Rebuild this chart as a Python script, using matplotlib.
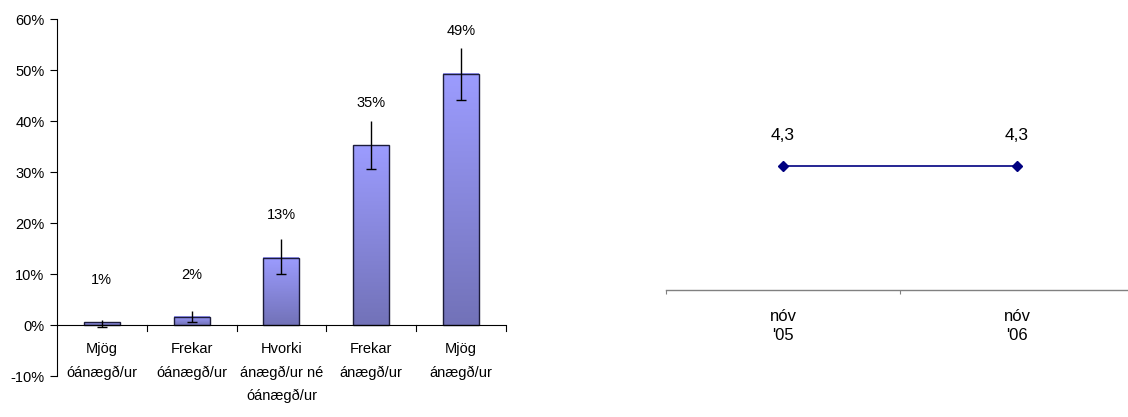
import matplotlib
matplotlib.use("Agg")
import matplotlib.pyplot as plt
from matplotlib.colors import LinearSegmentedColormap
import numpy as np

plt.rcParams['font.family'] = ['Liberation Sans', 'DejaVu Sans']
plt.rcParams['font.size'] = 10

# left chart data (percent)
categories = ['Mjög\nóánægð/ur', 'Frekar\nóánægð/ur', 'Hvorki\nánægð/ur né\nóánægð/ur',
              'Frekar\nánægð/ur', 'Mjög\nánægð/ur']
values = [0.5, 1.6, 13.2, 35.2, 49.3]
err_low = [-0.3, 0.5, 10.0, 30.6, 44.2]
err_high = [1.0, 2.7, 16.8, 40.0, 54.3]
labels = ['1%', '2%', '13%', '35%', '49%']

# right chart data
periods = ["nóv\n'05", "nóv\n'06"]
scores = [4.3, 4.3]
score_labels = ['4,3', '4,3']

fig = plt.figure(figsize=(11.28, 4.17), dpi=100)

# ---- left: bar chart with error bars
ax = fig.add_axes([0.0505, 0.0983, 0.398, 0.8561])
x = np.arange(len(categories))
bars = ax.bar(x, values, width=0.4, facecolor='none', edgecolor='#1c1c3a', linewidth=1.0, zorder=3)

grad = LinearSegmentedColormap.from_list('g', ['#7272b8', '#9c9cff'])
g = np.linspace(0, 1, 256).reshape(-1, 1)
for b in bars:
    x0, y0 = b.get_x(), b.get_y()
    ax.imshow(g, cmap=grad, origin='lower', aspect='auto', zorder=2,
              extent=(x0, x0 + b.get_width(), y0, y0 + b.get_height()))

ax.vlines(x, err_low, err_high, color='black', linewidth=1.0, zorder=4)
ax.plot(x, err_low, linestyle='none', marker='_', markersize=7, markeredgewidth=1.0,
        color='black', zorder=4)

for xi, lab, v in zip(x, labels, values):
    ax.text(xi, v + 8.3, lab, ha='center', va='center', fontsize=10.5)

ax.set_xlim(-0.5, 4.5)
ax.set_ylim(-10, 60)
ax.set_yticks(np.arange(-10, 61, 10))
ax.set_yticklabels([f'{t}%' for t in range(-10, 61, 10)], fontsize=10.5)
for s in ['top', 'right', 'bottom']:
    ax.spines[s].set_visible(False)
ax.spines['left'].set_linewidth(0.8)
ax.axhline(0, color='black', linewidth=0.8, zorder=5)
ax.tick_params(axis='y', direction='out', length=5, width=0.8, pad=4)
ax.set_xticks([])
# category separators hanging below the zero line
for xs in np.arange(0.5, 4.6, 1.0):
    ax.plot([xs, xs], [0, -1.2], color='black', linewidth=0.8, clip_on=False, zorder=5)
for xi, c in zip(x, categories):
    ax.text(xi, -3.3, c, ha='center', va='top', fontsize=10.5, linespacing=1.85)

# ---- right: line chart
ax2 = fig.add_axes([0.5904, 0.3046, 0.415, 0.36])
xp = np.arange(len(periods))
ax2.plot(xp, scores, color='#000080', linewidth=1.2, marker='D', markersize=5.5, clip_on=False)
for xi, s, lab in zip(xp, scores, score_labels):
    ax2.annotate(lab, (xi, s), xytext=(0, 22), textcoords='offset points',
                 ha='center', va='center', fontsize=12.5)
ax2.set_xlim(-0.5, 1.5)
ax2.set_ylim(1, 5)
for s in ['top', 'right', 'left']:
    ax2.spines[s].set_visible(False)
ax2.spines['bottom'].set_color('#808080')
ax2.spines['bottom'].set_linewidth(1.0)
ax2.set_yticks([])
ax2.set_xticks([-0.5, 0.5, 1.5])
ax2.set_xticklabels([])
ax2.tick_params(axis='x', direction='out', length=3, color='#808080')
for xi, p in zip(xp, periods):
    ax2.annotate(p, (xi, 0), xycoords=ax2.get_xaxis_transform(), xytext=(0, -14),
                 textcoords='offset points', ha='center', va='top', fontsize=12,
                 linespacing=1.3)

fig.savefig('out.png', dpi=100)
